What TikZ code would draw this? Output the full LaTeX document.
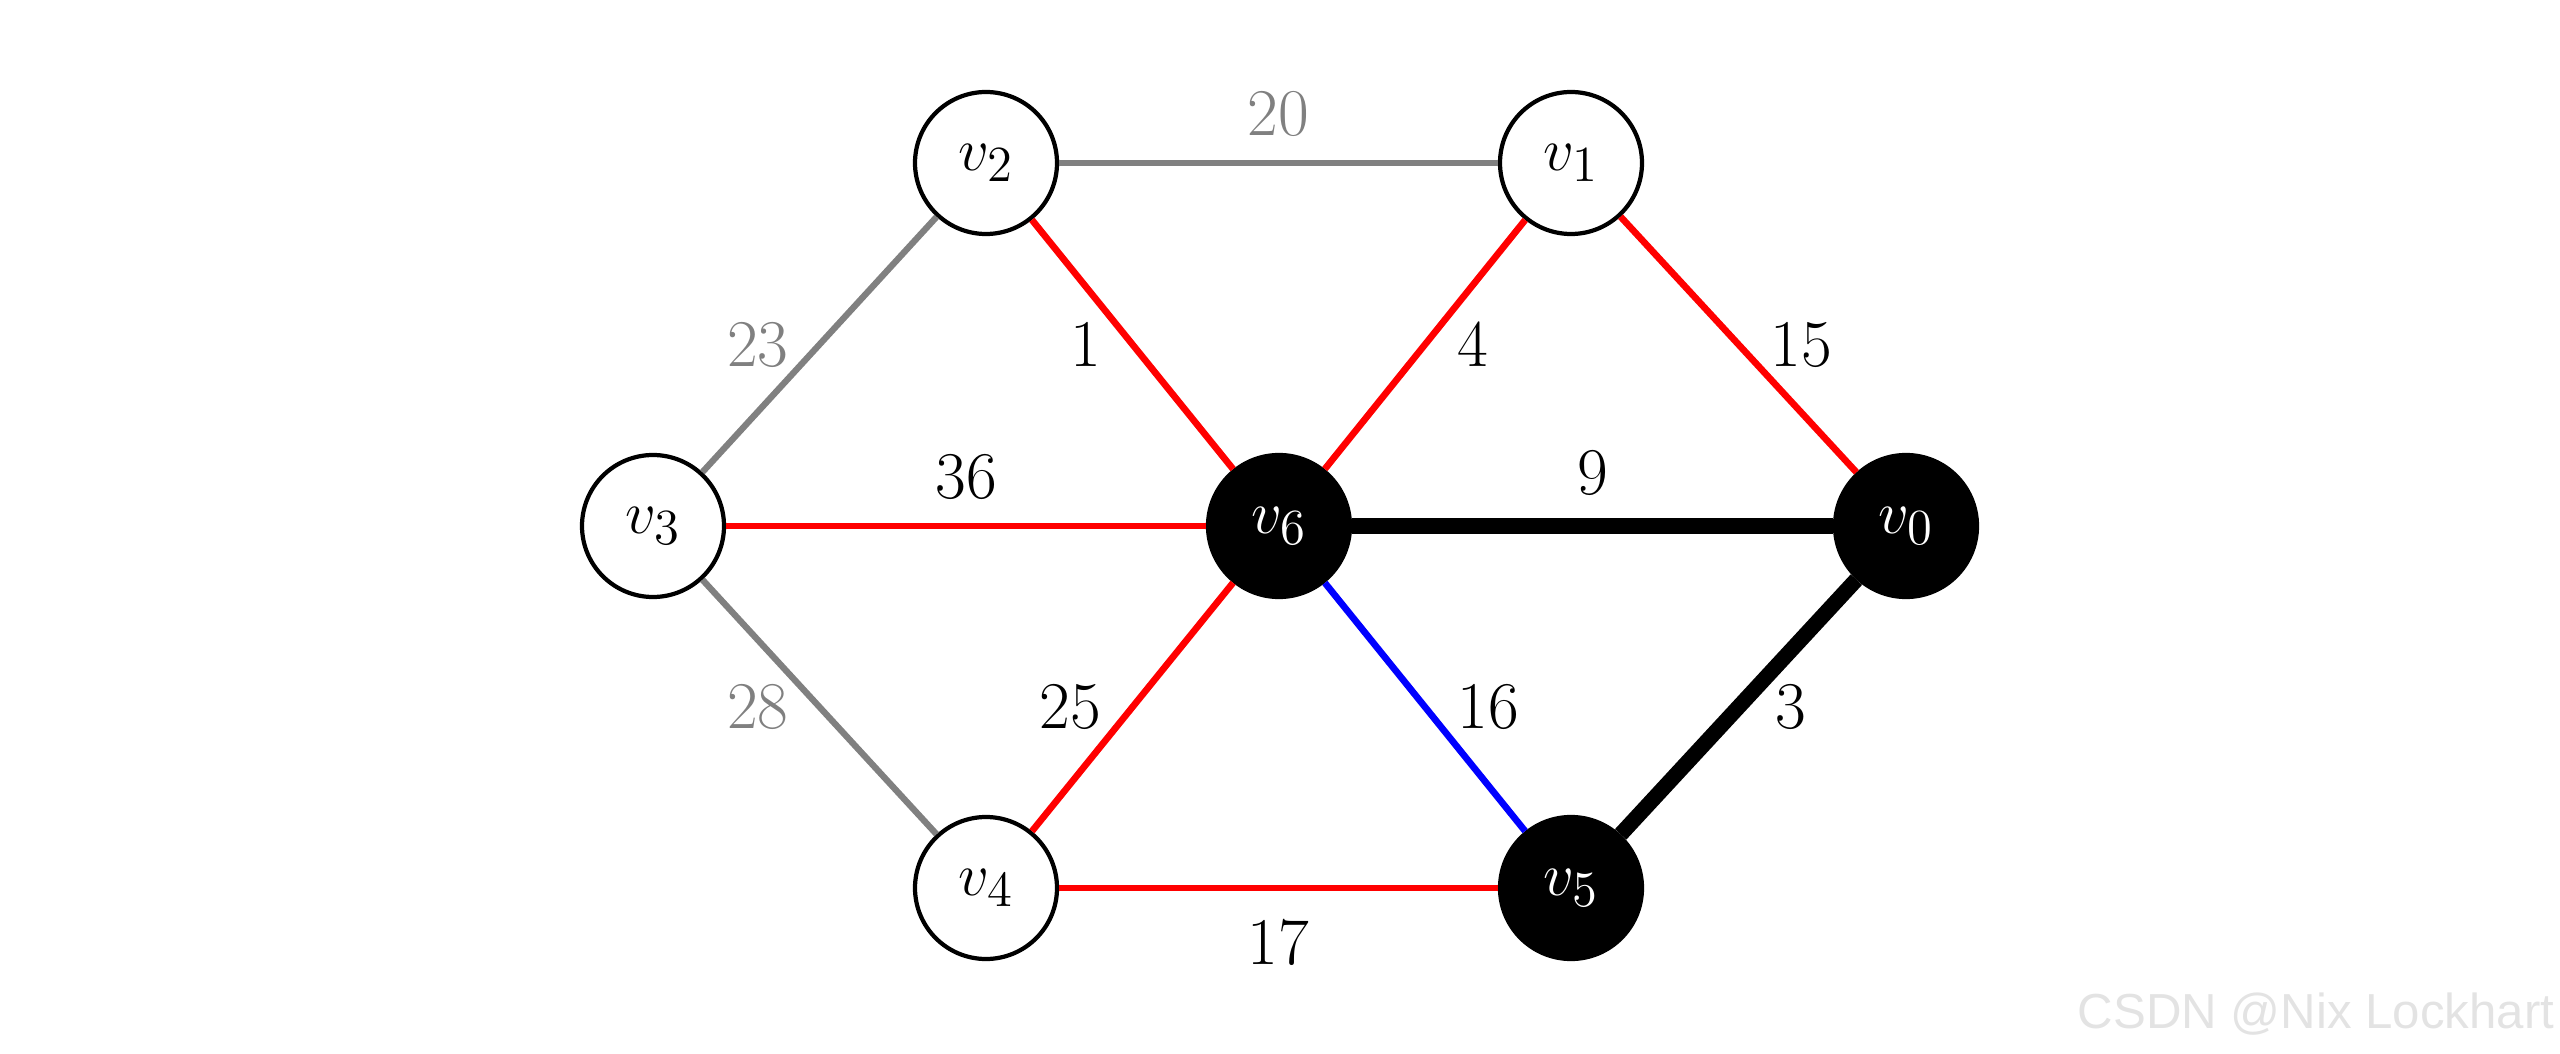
\documentclass[tikz,border=0pt]{standalone}
\usepackage{fontspec}
\newfontfamily\markfont{Liberation Sans}
\begin{document}
\begin{tikzpicture}[
    vertex/.style={circle, draw, line width=1.2pt, minimum size=1.42cm, inner sep=0pt, font=\fontsize{19}{23}\selectfont},
    picked/.style={vertex, fill=black, text=white},
    weight/.style={inner sep=0pt, font=\fontsize{19}{23}\selectfont},
    unused/.style={gray, line width=1.8pt},
    cand/.style={draw=red, line width=1.9pt},
    swapped/.style={draw=blue, line width=1.9pt},
    tree/.style={draw=black, line width=4.4pt}
  ]
  \useasboundingbox (0,0) rectangle (25.6,10.53);

  % vertices
  \node[vertex] (v2) at (9.86,8.90) {$v_2$};
  \node[vertex] (v1) at (15.71,8.90) {$v_1$};
  \node[vertex] (v3) at (6.53,5.27) {$v_3$};
  \node[picked] (v6) at (12.79,5.27) {$v_6$};
  \node[picked] (v0) at (19.06,5.27) {$v_0$};
  \node[vertex] (v4) at (9.86,1.65) {$v_4$};
  \node[picked] (v5) at (15.71,1.65) {$v_5$};

  % edges
  \draw[unused] (v2) -- node[weight, above=0.23cm] {20} (v1);
  \draw[unused] (v3) -- node[weight, left=0.28cm] {23} (v2);
  \draw[unused] (v3) -- node[weight, left=0.28cm] {28} (v4);
  \draw[cand] (v2) -- node[weight, left=0.28cm] {1} (v6);
  \draw[cand] (v6) -- node[weight, right=0.29cm] {4} (v1);
  \draw[cand] (v1) -- node[weight, right=0.29cm] {15} (v0);
  \draw[cand] (v3) -- node[weight, above=0.23cm] {36} (v6);
  \draw[cand] (v4) -- node[weight, left=0.28cm] {25} (v6);
  \draw[cand] (v4) -- node[weight, below=0.28cm] {17} (v5);
  \draw[swapped] (v6) -- node[weight, right=0.29cm] {16} (v5);
  \draw[tree] (v6) -- node[weight, above=0.23cm] {9} (v0);
  \draw[tree] (v5) -- node[weight, right=0.29cm] {3} (v0);

  \node[anchor=base east, inner sep=0pt, text=black!11, font=\markfont\fontsize{14}{17}\selectfont] (mark) at (25.55,0.25) {CSDN @Nix Lockhart};
\end{tikzpicture}
\end{document}
